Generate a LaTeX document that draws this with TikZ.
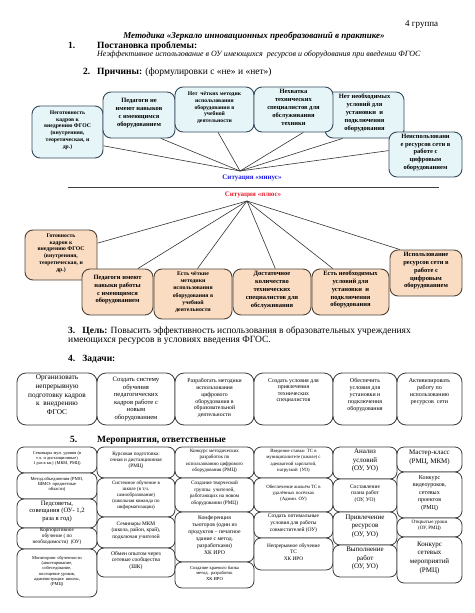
\documentclass[tikz,border=0pt]{standalone}
\usepackage{fontspec}
\setmainfont{Liberation Serif}
\usetikzlibrary{fit}
\definecolor{cfill}{HTML}{E6F6F8}
\definecolor{cdraw}{HTML}{34495A}
\definecolor{pfill}{HTML}{FADCC2}
\definecolor{pdraw}{HTML}{4F4338}
\definecolor{bdraw}{HTML}{3A3A3A}
\definecolor{minusblue}{HTML}{1E1EE6}
\definecolor{plusred}{HTML}{E61E2D}
\begin{document}
\begin{tikzpicture}[x=1pt,y=-1pt,
 fz/.style 2 args={font=\fontsize{#1}{#2}\selectfont},
 fzb/.style 2 args={font=\fontsize{#1}{#2}\selectfont\bfseries},
 bx/.style={inner sep=0pt, align=center, rounded corners=8pt, line width=0.9pt},
 cbox/.style={bx, draw=cdraw, fill=cfill},
 pbox/.style={bx, draw=pdraw, fill=pfill},
 wbox/.style={bx, draw=bdraw, fill=white, line width=0.8pt, rounded corners=7pt},
 tbox/.style={wbox, rounded corners=9pt},
 ray/.style={draw=black!80, line width=0.6pt},
 txt/.style={inner sep=0pt, anchor=base west},
 ttxt/.style={inner sep=0pt, anchor=north, align=center},
]
\useasboundingbox (0,0) rectangle (474,613);

% header
\node[txt, fz={9}{10}] (grp) at (405,27) {4 группа};
\node[inner sep=0pt, anchor=base, font=\fontsize{9}{11}\selectfont\bfseries\itshape] (title) at (254,38) {Методика «Зеркало инновационных преобразований в практике»};
\node[txt, fzb={9.5}{11}] (n1) at (68,48.5) {1.};
\node[txt, fzb={9.5}{11}] (h1) at (97,48.5) {Постановка проблемы:};
\node[txt, font=\fontsize{8}{9}\selectfont\itshape] (sub) at (97,56.5) {Неэффективное использование в ОУ имеющихся\ \ ресурсов и оборудования при введении ФГОС};
\node[txt, fzb={9.5}{11}] (n2) at (83,74.5) {2.};
\node[txt, fz={9.5}{11}] (h2) at (97,74.5) {\textbf{Причины:} (формулировки с «не» и «нет»)};

% causes (minus)
\node[cbox, fzb={5.7}{6.8}, fit={(32,106) (103,158)}] (c1) {Неготовность\\кадров к\\внедрению ФГОС\\(внутренняя,\\теоретическая, и\\др.)};
\node[cbox, fzb={6.5}{7.8}, fit={(103,92) (175,138)}] (c2) {Педагоги не\\имеют навыков\\с имеющимся\\оборудованием};
\node[cbox, fzb={6.5}{7.9}, fit={(325,92) (404,138)}] (c5) {Нет необходимых\\условий для\\установки\ \ и\\подключения\\оборудования};
\node[cbox, fzb={5.7}{6.8}, fit={(175,87) (254,132)}] (c3) {Нет\ \ чётких методик\\использования\\оборудования в\\учебной\\деятельности};
\node[cbox, fzb={6.5}{7.9}, fit={(254,87) (333,132)}] (c4) {Нехватка\\технических\\специалистов для\\обслуживания\\техники};
\node[cbox, fzb={6.5}{7.8}, fit={(389,132) (462,177)}] (c6) {Неиспользовани\\е ресурсов сети в\\работе с\\цифровым\\оборудованием};

\coordinate (mpt) at (240,171);
\draw[ray] (c1.-21.5) -- (mpt);
\draw[ray] (c2.-47.6) -- (mpt);
\draw[ray] (c3.-81) -- (mpt);
\draw[ray] (c4.-67.1) -- (mpt);
\draw[ray] (c5.-133.1) -- (mpt);
\draw[ray] (c6.174.5) -- (mpt);
\node[inner sep=0pt, fzb={7}{8}, text=minusblue] (mlab) at (252,177.5) {Ситуация «минус»};

\coordinate (sepL) at (68,187);
\coordinate (sepR) at (439,187);
\draw[line width=0.8pt, black!75] (sepL) -- (sepR);

% plus
\node[inner sep=0pt, fzb={7}{8}, text=plusred] (plab) at (253,195) {Ситуация «плюс»};
\coordinate (ppt) at (247,201);
\node[pbox, fzb={5.7}{6.8}, fit={(25,230) (97,280)}] (p1) {Готовность\\кадров к\\внедрению ФГОС\\(внутренняя,\\теоретическая, и\\др.)};
\node[pbox, fzb={6.5}{7.7}, fit={(82,269) (153,315)}] (p2) {Педагоги имеют\\навыки работы\\с имеющимся\\оборудованием};
\node[pbox, fzb={5.8}{7.1}, fit={(154,269) (232,319)}] (p3) {Есть чёткие\\методики\\использования\\оборудования в\\учебной\\деятельности};
\node[pbox, fzb={6.5}{8}, fit={(233,269) (311,315)}] (p4) {Достаточное\\количество\\технических\\специалистов для\\обслуживания};
\node[pbox, fzb={6.5}{7.7}, fit={(312,269) (389,315)}] (p5) {Есть необходимых\\условий для\\установки\ \ и\\подключения\\оборудования};
\node[pbox, fzb={6.5}{7.8}, fit={(390,250) (462,296)}] (p6) {Использование\\ресурсов сети в\\работе с\\цифровым\\оборудованием};
\draw[ray] (ppt) -- (p1.18.4);
\draw[ray] (ppt) -- (p2.49.7);
\draw[ray] (ppt) -- (p3.80.9);
\draw[ray] (ppt) -- (p4.82.6);
\draw[ray] (ppt) -- (p5.127.3);
\draw[ray] (ppt) -- (p6.138.5);

% goal
\node[txt, fz={9.5}{11}] (goal1) at (68,333) {\textbf{3.\ \ \ Цель:} Повысить эффективность использования в образовательных учреждениях};
\node[txt, fz={9.5}{11}] (goal2) at (68,342.5) {имеющихся ресурсов в условиях введения ФГОС.};
\node[txt, fzb={9.5}{11}] (tasksh) at (68,361) {4.\ \ \ Задачи:};

% tasks
\node[tbox, fit={(17,373) (97,425)}] (t1) {};
\node[tbox, fit={(97,373) (175,425)}] (t2) {};
\node[tbox, fit={(175,373) (254,425)}] (t3) {};
\node[tbox, fit={(254,373) (333,425)}] (t4) {};
\node[tbox, fit={(333,373) (397,425)}] (t5) {};
\node[tbox, fit={(397,373) (462,425)}] (t6) {};
\node[ttxt, fz={7.3}{8.8}] (t1x) at (57,374.5) {Организовать\\непрерывную\\подготовку кадров\\к\ \ внедрению\\ФГОС};
\node[ttxt, fz={6.6}{7.6}] (t2x) at (136,377) {Создать систему\\обучения\\педагогических\\кадров работе с\\новым\\оборудованием};
\node[ttxt, fz={5.8}{6.9}] (t3x) at (214.5,378) {Разработать методики\\использования\\цифрового\\оборудования в\\образовательной\\деятельности};
\node[ttxt, fz={5.8}{6.5}] (t4x) at (293.5,378) {Создать условия для\\привлечения\\технических\\специалистов};
\node[ttxt, fz={6}{7.1}] (t5x) at (365,378) {Обеспечить\\условия для\\установки и\\подключения\\оборудования};
\node[ttxt, fz={6}{7.2}] (t6x) at (429.5,378) {Активизировать\\работу по\\использованию\\ресурсов\ \ сети};

% measures
\node[txt, fzb={9.5}{11}] (n5) at (70,442) {5.};
\node[txt, fzb={9.5}{11}] (h5) at (97,442) {Мероприятия, ответственные};

\node[wbox, fz={4.4}{5}, fit={(17,447) (97,473)}] (m1a) {Семинары мун. уровня (в\\т.ч. и дистанционные)\\1 раз в кв.) (МКМ, РМЦ)};
\node[wbox, fz={4.6}{5.2}, fit={(17,473) (97,499)}] (m1b) {Метод.объединения (РМО,\\ШМО- предметные\\области)};
\node[wbox, fz={6.6}{7.6}, fit={(17,499) (97,528)}] (m1c) {Педсоветы,\\совещания (ОУ- 1,2\\раза в год)};
\node[wbox, fz={5.2}{6}, fit={(17,528) (97,549)}] (m1d) {Корпоративное\\обучение ( по\\необходимости)\ \ (ОУ)};
\node[wbox, fz={4.5}{5.3}, fit={(17,549) (97,597)}] (m1e) {Мониторинг обученности\\(анкетирование,\\собеседование,\\посещение уроков,\\администрация\ \ школы,\\(РМЦ)};

\node[wbox, fz={5.2}{6}, fit={(97,447) (175,478)}] (m2a) {Курсовая подготовка:\\очная и дистанционная\\(РМЦ)};
\node[wbox, fz={5}{6}, fit={(97,478) (175,517)}] (m2b) {Системное обучение в\\школе (в т.ч.\\самообразование)\\(школьная команда по\\информатизации)};
\node[wbox, fz={5.4}{6.2}, fit={(97,517) (175,548)}] (m2c) {Семинары МКМ\\(школа, район, край),\\подключая учителей};
\node[wbox, fz={5.6}{6.7}, fit={(97,548) (175,577)}] (m2d) {Обмен опытом через\\сетевые сообщества\\(ШК)};

\node[wbox, fz={5}{6.3}, fit={(175,447) (254,478)}] (m3a) {Конкурс методических\\разработок по\\использованию цифрового\\оборудования (РМЦ)};
\node[wbox, fz={5.2}{6.7}, fit={(175,478) (254,512)}] (m3b) {Создание творческой\\группы\ \ учителей,\\работающих на новом\\оборудовании (РМЦ)};
\node[wbox, fz={5.7}{7}, fit={(175,512) (254,562)}] (m3c) {Конференция\\тьюторов (один из\\продуктов -- печатное\\здание с метод.\\разработками)\\ХК ИРО};
\node[wbox, fz={4.6}{5.5}, fit={(175,562) (254,588)}] (m3d) {Создание краевого банка\\метод.\ \ разработок\\ХК ИРО};

\node[wbox, fz={4.8}{6.1}, fit={(254,447) (333,478)}] (m4a) {Введение ставки\ \ ТС в\\муниципалитете (школе) с\\адекватной зарплатой,\\нагрузкой\ \ (УО)};
\node[wbox, fz={4.8}{5.8}, fit={(254,478) (333,512)}] (m4b) {Обеспечение жильём ТС в\\удалённых посёлках\\(Админ. ОУ)};
\node[wbox, fz={5.5}{6.7}, fit={(254,512) (333,538)}] (m4c) {Создать оптимальные\\условия для работы\\совместителей (ОУ)};
\node[wbox, fz={5.3}{6.7}, fit={(254,538) (333,570)}] (m4d) {Непрерывное обучение\\ТС\\ХК ИРО};

\node[wbox, fz={7}{8.3}, fit={(333,447) (397,479)}] (m5a) {Анализ\\условий\\(ОУ, УО)};
\node[wbox, fz={5.5}{6.7}, fit={(333,479) (397,512)}] (m5b) {Составление\\плана работ\\(ОУ, УО)};
\node[wbox, fz={7}{8.3}, fit={(333,512) (397,545)}] (m5c) {Привлечение\\ресурсов\\(ОУ, УО)};
\node[wbox, fz={7}{8.3}, fit={(333,545) (397,577)}] (m5d) {Выполнение\\работ\\(ОУ, УО)};

\node[wbox, fz={7}{8.8}, fit={(397,447) (462,472)}] (m6a) {Мастер-класс\\(РМЦ, МКМ)};
\node[wbox, fz={6}{7.5}, fit={(397,472) (462,518)}] (m6b) {Конкурс\\видеоуроков,\\сетевых\\проектов\\(РМЦ)};
\node[wbox, fz={5}{6}, fit={(397,518) (462,537)}] (m6c) {Открытые уроки\\(ОУ, РМЦ)};
\node[wbox, fz={7}{8.6}, fit={(397,537) (462,583)}] (m6d) {Конкурс\\сетевых\\мероприятий\\(РМЦ)};
\end{tikzpicture}
\end{document}
